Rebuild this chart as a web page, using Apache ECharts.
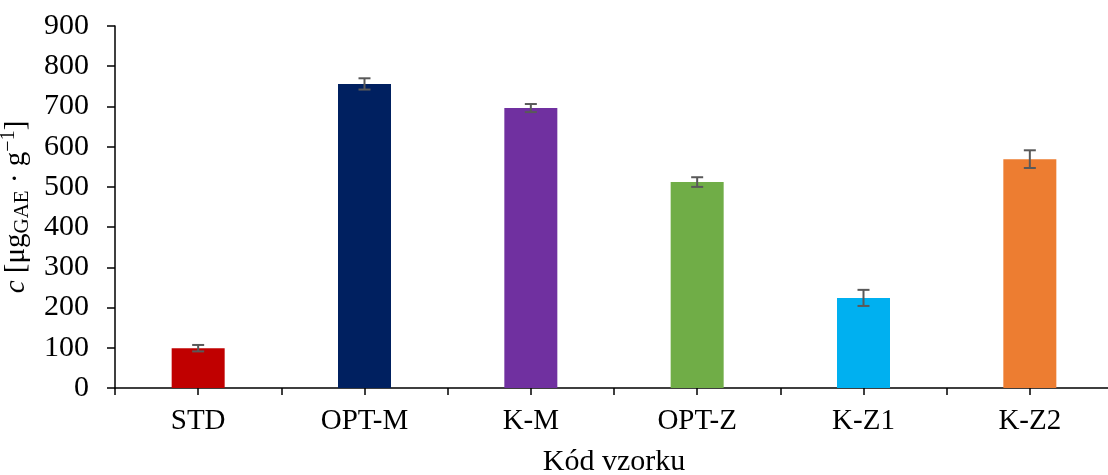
<!DOCTYPE html>
<html><head><meta charset="utf-8">
<script src="https://cdn.jsdelivr.net/npm/echarts@6/dist/echarts.min.js"></script>
<style>html,body{margin:0;padding:0;background:#fff}#c{width:1108px;height:475px}</style>
</head><body><div id="c"></div>
<script>
const categories = ['STD','OPT-M','K-M','OPT-Z','K-Z1','K-Z2'];
const values = [99, 756, 696, 512, 224, 569];
const errors = [8, 14, 10, 12, 20, 22];
const colors = ['#C00000','#002060','#7030A0','#70AD47','#00B0F0','#ED7D31'];
const yTicks = [0,100,200,300,400,500,600,700,800,900];

const font = 'Liberation Serif';
const chart = echarts.init(document.getElementById('c'));
chart.setOption({
  animation:false,
  backgroundColor:'#fff',
  grid:{left:115, right:-5, top:26, bottom:87, outerBoundsMode:'none', containLabel:false},
  xAxis:[{
    type:'category', data:categories, position:'bottom',
    axisLine:{lineStyle:{color:'#000', width:1.5}},
    axisTick:{show:false},
    axisLabel:{color:'#000', fontFamily:font, fontSize:29, margin:19},
    name:'Kód vzorku', nameLocation:'middle', nameGap:59,
    nameTextStyle:{color:'#000', fontFamily:font, fontSize:30}
  },{
    type:'category', data:categories.flatMap(c=>[c+'a',c+'b']), position:'bottom',
    axisLine:{show:false},
    axisTick:{show:true, interval:0, length:7, lineStyle:{color:'#000', width:1.5}},
    axisLabel:{show:false}
  }],
  yAxis:{
    type:'value', min:yTicks[0], max:yTicks[yTicks.length-1], interval:100,
    axisLine:{show:true, lineStyle:{color:'#000', width:1.5}},
    axisTick:{show:true, length:8, lineStyle:{color:'#000', width:1.5}},
    splitLine:{show:false},
    axisLabel:{color:'#000', fontFamily:font, fontSize:30, margin:26},
    name:'{i|c} [μg{sub|GAE} · g{sup|−1}]', nameLocation:'middle', nameGap:69, nameRotate:90,
    nameTextStyle:{color:'#000', fontFamily:font, fontSize:29,
      rich:{
        i:{fontFamily:font, fontSize:29, fontStyle:'italic', color:'#000'},
        sub:{fontFamily:font, fontSize:21, color:'#000', verticalAlign:'bottom', padding:[13,0,0,0]},
        sup:{fontFamily:font, fontSize:20, color:'#000', verticalAlign:'top', padding:[0,0,13,0]}
      }}
  },
  series:[{
    type:'bar', xAxisIndex:0, barWidth:53,
    data: values.map((v,i)=>({value:v, itemStyle:{color:colors[i]}}))
  },{
    type:'custom', xAxisIndex:0, z:10,
    data: values.map((v,i)=>[i, v, errors[i]]),
    renderItem:function(params, api){
      const x = api.value(0), v = api.value(1), e = api.value(2);
      const top = api.coord([x, v+e]);
      const bot = api.coord([x, v-e]);
      const hw = 6;
      const st = {stroke:'#595959', lineWidth:2};
      return {type:'group', children:[
        {type:'line', shape:{x1:top[0], y1:top[1], x2:bot[0], y2:bot[1]}, style:st},
        {type:'line', shape:{x1:top[0]-hw, y1:top[1], x2:top[0]+hw, y2:top[1]}, style:st},
        {type:'line', shape:{x1:bot[0]-hw, y1:bot[1], x2:bot[0]+hw, y2:bot[1]}, style:st}
      ]};
    }
  }]
});
</script></body></html>
